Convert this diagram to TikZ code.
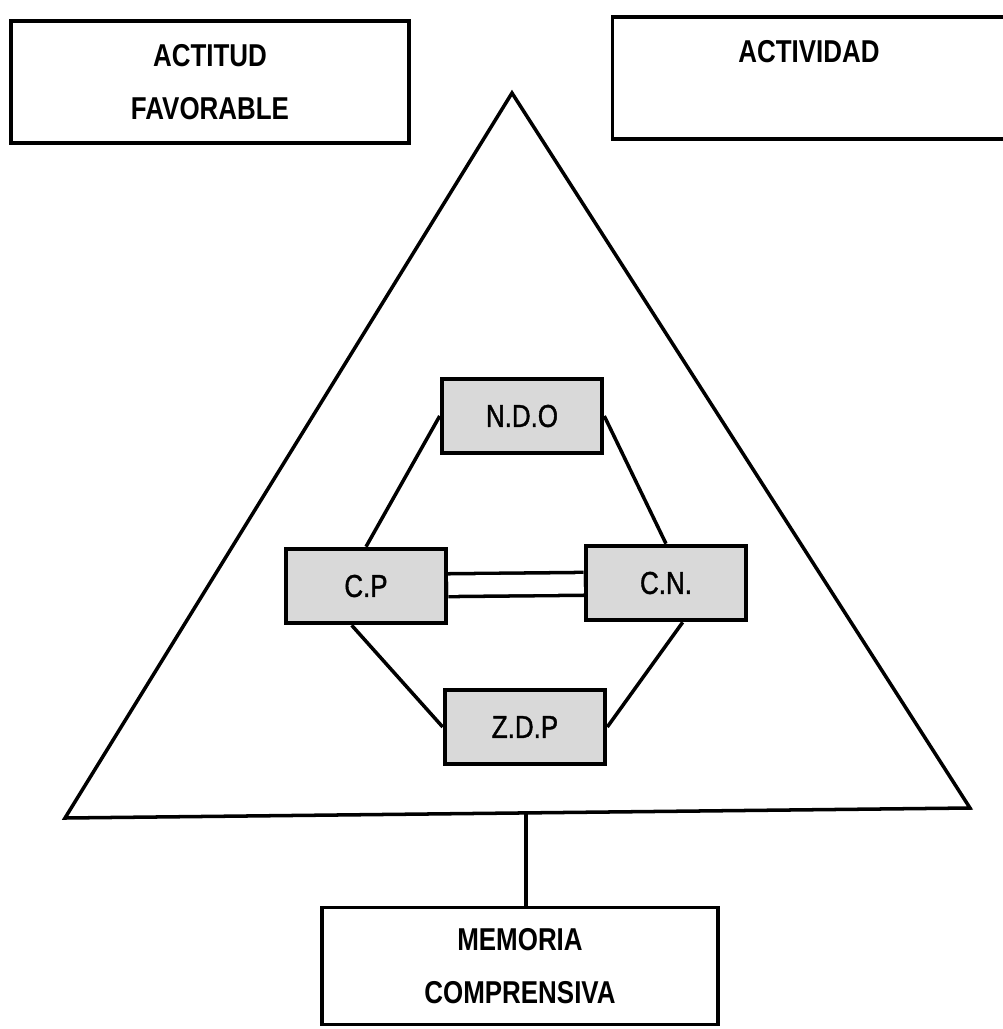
\documentclass[tikz,border=0pt]{standalone}
\usepackage{fontspec}
\setmainfont{Liberation Sans}
\newfontfamily\narrowfont[FakeStretch=0.82]{Liberation Sans}
\newfontfamily\innerfont[FakeStretch=0.82,FakeBold=1.2]{Liberation Sans}
\usepackage{tikz}
\usetikzlibrary{positioning}

\begin{document}
\begin{tikzpicture}
  [x=0.02cm, y=-0.02cm,
    outerbox/.style={
      draw=black, line width=2pt,
      inner sep=0pt,
      align=center,
      font=\narrowfont\fontsize{18}{30}\selectfont\bfseries
    },
    innerbox/.style={
      draw=black, line width=2.6pt,
      fill=black!15,
      inner sep=0pt,
      minimum width=160*0.02cm, minimum height=74*0.02cm,
      font=\innerfont\fontsize{18}{20}\selectfont
    },
    link/.style={
      line width=2pt
    }
  ]
  \useasboundingbox (0,0) rectangle (1003,1029);

  \node[outerbox, minimum width=398*0.02cm, minimum height=122*0.02cm]
    (actitud) at (210,82) {ACTITUD\\FAVORABLE};
  \node[outerbox, minimum width=393*0.02cm, minimum height=122*0.02cm]
    (actividad) at (809,78) {ACTIVIDAD\\\mbox{}};
  \node[outerbox, minimum width=396*0.02cm, minimum height=117*0.02cm]
    (memoria) at (520,966) {MEMORIA\\COMPRENSIVA};

  \coordinate (apex) at (512,93);
  \coordinate (baseleft) at (65,818);
  \coordinate (baseright) at (970,808);
  \coordinate (base) at (526,813);
  \draw[link] (apex) -- (baseleft) -- (baseright) -- cycle;

  \node[innerbox] (ndo) at (522,416) {N.D.O};
  \node[innerbox] (cp) at (366,586) {C.P};
  \node[innerbox] (cn) at (666,583) {C.N.};
  \node[innerbox] (zdp) at (525,727) {Z.D.P};

  \draw[link] (ndo.west) -- (cp.north);
  \draw[link] (ndo.east) -- (cn.north);
  \draw[link] (cp.250) -- (zdp.west);
  \draw[link] (cn.293) -- (zdp.east);
  \draw[link, double, double distance=11pt] (cp) -- (cn);
  \draw[link] (base) -- (base |- memoria.north);
\end{tikzpicture}
\end{document}
